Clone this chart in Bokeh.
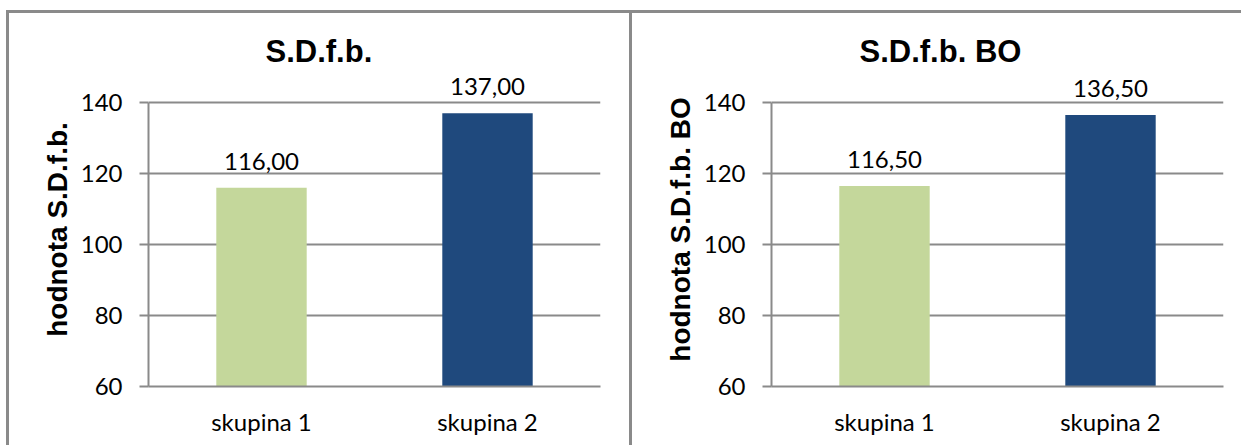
from bokeh.plotting import figure
from bokeh.models import ColumnDataSource, FactorRange, Range1d, FixedTicker, LabelSet, Spacer, Div
from bokeh.layouts import row, column
from bokeh.core.properties import value
from bokeh.embed import file_html
from bokeh.resources import INLINE

# ---- data ----
categories = ["skupina 1", "skupina 2"]
values_sdfb = [116.00, 137.00]
values_sdfb_bo = [116.50, 136.50]
bar_colors = ["#c4d79b", "#1f497d"]
y_ticks = [60, 80, 100, 120, 140]
titles = ["S.D.f.b.", "S.D.f.b. BO"]
axis_labels = ["hodnota S.D.f.b.", "hodnota S.D.f.b. BO"]

GRAY = "#8a8a8a"
REG_FONT = "Lato"
BOLD_FONT = "Liberation Sans"
PANEL_H = 432

# layout geometry (pixels)
AXIS_PX = 284          # pixel height from lowest to highest tick
HEADROOM_PX = 30       # frame space above highest tick, for the value labels
TOP_BORDER = 59
BOTTOM_BORDER = PANEL_H - TOP_BORDER - AXIS_PX - HEADROOM_PX


def fmt(v):
    return f"{v:.2f}".replace(".", ",")


def make_panel(title, ylabel, values, width, right_border, title_offset):
    y0, y1 = y_ticks[0], y_ticks[-1]
    y_end = y1 + (y1 - y0) * HEADROOM_PX / AXIS_PX
    src = ColumnDataSource(dict(
        cat=categories,
        val=values,
        color=bar_colors,
        label=[fmt(v) for v in values],
        base=[y0] * len(values),
    ))
    p = figure(
        x_range=FactorRange(factors=categories, range_padding=0),
        y_range=Range1d(y0, y_end),
        width=width, height=PANEL_H,
        toolbar_location=None, output_backend="svg",
        min_border_left=139, min_border_right=right_border,
        min_border_top=TOP_BORDER, min_border_bottom=BOTTOM_BORDER,
        outline_line_color=None, title=title,
        background_fill_color="white", border_fill_color="white",
    )
    p.vbar(x="cat", top="val", bottom="base", width=0.4, color="color",
           line_color=None, source=src)
    p.add_layout(LabelSet(x="cat", y="val", text="label", source=src, y_offset=18,
                          text_align="center", text_baseline="alphabetic",
                          text_font=value(REG_FONT), text_font_size="24px",
                          text_color="#000000"))

    # title
    p.title.align = "left"
    p.title.offset = title_offset
    p.title.standoff = 7
    p.title.text_font = BOLD_FONT
    p.title.text_font_size = "31px"
    p.title.text_font_style = "bold"
    p.title.text_color = "#000000"

    # y axis
    yax = p.yaxis[0]
    yax.ticker = FixedTicker(ticks=y_ticks)
    yax.bounds = (y0, y1)
    yax.axis_label = ylabel
    yax.axis_label_text_font = BOLD_FONT
    yax.axis_label_text_font_style = "bold"
    yax.axis_label_text_font_size = "28px"
    yax.axis_label_text_color = "#000000"
    yax.axis_label_standoff = 5
    yax.major_label_text_font = REG_FONT
    yax.major_label_text_font_size = "24px"
    yax.major_label_text_color = "#000000"
    yax.major_label_standoff = 17
    yax.axis_line_color = GRAY
    yax.axis_line_width = 2
    yax.major_tick_line_color = GRAY
    yax.major_tick_line_width = 2
    yax.major_tick_in = 0
    yax.major_tick_out = 9
    yax.minor_tick_line_color = None

    # x axis
    xax = p.xaxis[0]
    xax.major_label_text_font = REG_FONT
    xax.major_label_text_font_size = "24px"
    xax.major_label_text_color = "#000000"
    xax.major_label_standoff = 14
    xax.axis_line_color = GRAY
    xax.axis_line_width = 2
    xax.major_tick_line_color = None
    xax.minor_tick_line_color = None

    # grid
    p.xgrid.visible = False
    p.ygrid.ticker = FixedTicker(ticks=y_ticks)
    p.ygrid.grid_line_color = GRAY
    p.ygrid.grid_line_width = 2
    return p


def rule(w, h):
    return Div(text="", width=w, height=h, margin=0,
               styles={"background-color": GRAY})


def gap(w, h):
    return Spacer(width=w, height=h, margin=0)


p1 = make_panel(titles[0], axis_labels[0], values_sdfb, 620, 29, 117)
p2 = make_panel(titles[1], axis_labels[1], values_sdfb_bo, 609, 18, 88)

layout = column(
    gap(1241, 10),
    row(gap(6, 3), rule(1235, 3)),
    row(gap(6, PANEL_H), rule(3, PANEL_H), p1, rule(3, PANEL_H), p2),
)

open("out.html", "w").write(file_html(layout, INLINE))
